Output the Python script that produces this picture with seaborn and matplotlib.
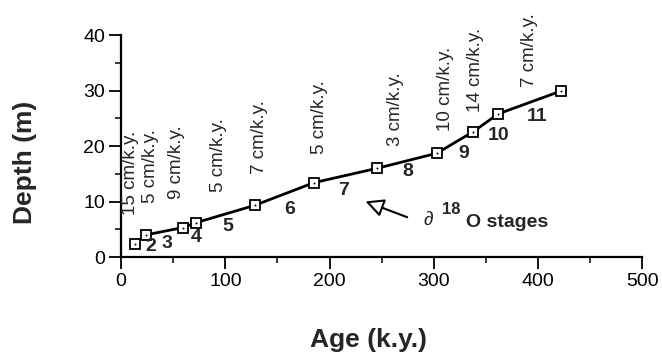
import matplotlib
matplotlib.use("Agg")
import matplotlib.pyplot as plt
import seaborn as sns
import pandas as pd
from matplotlib.ticker import MultipleLocator

# Data
age = [13, 24, 59, 72, 128, 185, 246, 303, 338, 362, 422]
depth = [2.4, 4.0, 5.3, 6.2, 9.3, 13.4, 16.0, 18.7, 22.6, 25.8, 29.9]

rate_labels = ["15 cm/k.y.", "5 cm/k.y.", "9 cm/k.y.", "5 cm/k.y.", "7 cm/k.y.",
               "5 cm/k.y.", "3 cm/k.y.", "10 cm/k.y.", "14 cm/k.y.", "7 cm/k.y."]
rate_x = [9, 28, 53, 93, 133, 190, 263, 311, 340, 392]
rate_y = [7.5, 9.8, 10.4, 11.8, 15.0, 18.5, 20.0, 22.7, 26.2, 30.7]

stage_labels = ["2", "3", "4", "5", "6", "7", "8", "9", "10", "11"]
stage_x = [28.5, 44, 72, 102, 162, 213, 275, 328.5, 362, 399]
stage_y = [1.9, 2.5, 3.6, 5.5, 8.5, 11.9, 15.5, 18.7, 21.9, 25.4]

df = pd.DataFrame({"Age": age, "Depth": depth})

sns.set_style("ticks")
plt.rcParams["font.family"] = ["Liberation Sans", "DejaVu Sans"]

fig = plt.figure(figsize=(6.62, 3.59), dpi=100)
ax = fig.add_axes([0.183, 0.284, 0.787, 0.6185])

sns.lineplot(data=df, x="Age", y="Depth", ax=ax, color="black", linewidth=2.0,
             marker="s", markersize=7.5, markerfacecolor="white",
             markeredgecolor="black", markeredgewidth=1.3, zorder=3)
sns.scatterplot(data=df, x="Age", y="Depth", ax=ax, color="black", s=2,
                linewidth=0, zorder=4)

for t, x, y in zip(rate_labels, rate_x, rate_y):
    ax.text(x, y, t, rotation=90, ha="center", va="bottom", fontsize=13.5)

for t, x, y in zip(stage_labels, stage_x, stage_y):
    ax.text(x, y, t, ha="center", va="center", fontsize=14, fontweight="bold")

ax.annotate("", xy=(232, 10.2), xytext=(277, 7.0),
            arrowprops=dict(arrowstyle="-|>,head_length=1.1,head_width=0.55",
                            color="black", lw=1.5, fc="white"))
ax.text(294.5, 6.7, "\u2202", ha="center", va="center", fontsize=14)
ax.text(317, 8.6, "18", ha="center", va="center", fontsize=12, fontweight="bold")
ax.text(331, 6.3, "O stages", ha="left", va="center", fontsize=14, fontweight="bold")

ax.set_xlim(0, 500)
ax.set_ylim(0, 40)
ax.set_xticks([0, 100, 200, 300, 400, 500])
ax.set_yticks([0, 10, 20, 30, 40])
ax.xaxis.set_minor_locator(MultipleLocator(50))
ax.yaxis.set_minor_locator(MultipleLocator(5))
ax.tick_params(axis="both", which="major", direction="out", length=8.5, width=1.3,
               labelsize=14, colors="black", pad=3)
ax.tick_params(axis="both", which="minor", direction="out", length=4, width=1.3)
for s in ["top", "right"]:
    ax.spines[s].set_visible(False)
for s in ["left", "bottom"]:
    ax.spines[s].set_linewidth(1.6)
    ax.spines[s].set_color("black")

ax.set_xlabel("Age (k.y.)", fontsize=19, fontweight="bold", va="center")
ax.set_ylabel("Depth (m)", fontsize=19, fontweight="bold", va="center")
ax.xaxis.set_label_coords(0.474, -0.374)
ax.yaxis.set_label_coords(-0.184, 0.426)

fig.savefig("out.png", dpi=100)
